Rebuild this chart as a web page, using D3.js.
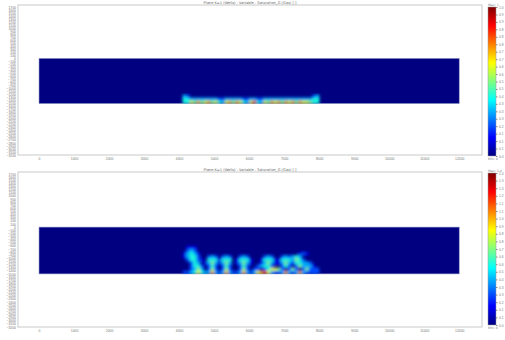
<!DOCTYPE html>
<html>
<head>
<meta charset="utf-8">
<script src="https://cdn.jsdelivr.net/npm/d3@7"></script>
<style>
  body { margin: 0; background: #fff; }
  svg { display: block; font-family: "DejaVu Sans", sans-serif; }
</style>
</head>
<body>
<svg id="chart" width="505" height="340"></svg>
<script>
// Axis ticks (metres)
const xTicks = [0, 1000, 2000, 3000, 4000, 5000, 6000, 7000, 8000, 9000, 10000, 11000, 12000];
const yTicks = [1700, 1600, 1500, 1400, 1300, 1200, 1100, 1000, 900, 800, 700, 600, 500, 400, 300, 200, 100, 0,
  -100, -200, -300, -400, -500, -600, -700, -800, -900, -1000, -1100, -1200, -1300, -1400, -1500, -1600,
  -1700, -1800, -1900, -2000, -2100, -2200, -2300, -2400, -2500, -2600, -2700, -2800, -2900, -3000, -3100, -3200];

// Model extent
const modelX = [0, 12000];
const modelY = [-1500, 0];

// Grid cells: columns start at 3800 m, 100 m wide; each string is one 100 m layer, digit = saturation / 10
const gridX0 = 3800;
const cellSize = 100;

const topDepths = [-1200, -1300, -1400];
const topGrid = [
  "00032000000000000000000000000000000000002300",
  "00044333333332233333223322333333333333334400",
  "00044657567564367576436843657675767576654400"
];

const bottomDepths = [-600, -700, -800, -900, -1000, -1100, -1200, -1300, -1400];
const bottomGrid = [
  "00001110000000000000000000000000000000000000",
  "00002320000000000000000000000000000000000000",
  "00013431000000000000000000000000000012100000",
  "00013442002320232002320000232002323430000000",
  "00002442104441444014441001444114443542000000",
  "00000243013531353013531001353113532443320000",
  "00000244202420242002420023442002420253331000",
  "00000235302520252002520220246652025202522200",
  "00022346433732373223732367963223732373222200"
];

// Colour bars
const topBarMax = 1.0;
const topBarTicks = [0, 0.05, 0.1, 0.15, 0.2, 0.25, 0.3, 0.35, 0.4, 0.45, 0.5, 0.55, 0.6, 0.65, 0.7, 0.75, 0.8, 0.85, 0.9, 0.95, 1];
const bottomBarMax = 1.4;
const bottomBarTicks = [0, 0.07, 0.14, 0.21, 0.28, 0.35, 0.42, 0.49, 0.56, 0.63, 0.7, 0.77, 0.84, 0.91, 0.98, 1.05, 1.12, 1.19, 1.26, 1.33, 1.4];

const titles = [
  "Plane K=1 (Wells)  -  Variable : Saturation_G (Gas) [-]",
  "Plane K=1 (Wells)  -  Variable : Saturation_G (Gas) [-]"
];

// Jet colour map
const jetStops = [0, 0.125, 0.375, 0.625, 0.875, 1];
const jetColours = ["#000080", "#0000ff", "#00ffff", "#ffff00", "#ff0000", "#800000"];
const jet = d3.scaleLinear().domain(jetStops).range(jetColours).clamp(true);

const svg = d3.select("#chart");
const defs = svg.append("defs");

defs.append("filter").attr("id", "soft")
  .attr("x", "-10%").attr("y", "-10%").attr("width", "120%").attr("height", "120%")
  .append("feGaussianBlur").attr("stdDeviation", 1.35);

const grad = defs.append("linearGradient").attr("id", "jetGrad")
  .attr("x1", 0).attr("y1", 1).attr("x2", 0).attr("y2", 0);
grad.selectAll("stop").data(jetStops).join("stop")
  .attr("offset", d => d)
  .attr("stop-color", d => jet(d));

const panels = [
  {top: 5, bottom: 155, barTop: 7, barBottom: 156, depths: topDepths, grid: topGrid,
   barMax: topBarMax, barTicks: topBarTicks, title: titles[0]},
  {top: 172, bottom: 327, barTop: 173, barBottom: 325, depths: bottomDepths, grid: bottomGrid,
   barMax: bottomBarMax, barTicks: bottomBarTicks, title: titles[1]}
];

const frameLeft = 18, frameRight = 482;
const barLeft = 488, barWidth = 8;

panels.forEach((p, i) => {
  const x = d3.scaleLinear().domain([-600, 12650]).range([frameLeft, frameRight]);
  const y = d3.scaleLinear().domain([-3200, 1700]).range([p.bottom, p.top + 2]);
  const g = svg.append("g");

  // frame
  g.append("rect")
    .attr("x", frameLeft).attr("y", p.top)
    .attr("width", frameRight - frameLeft).attr("height", p.bottom - p.top)
    .attr("fill", "none").attr("stroke", "#c9c9c9").attr("stroke-width", 1);

  // title
  g.append("text")
    .attr("x", 250).attr("y", p.top - 1.3)
    .attr("text-anchor", "middle")
    .attr("font-size", 3.6).attr("fill", "#666")
    .text(p.title);

  // axes
  const xAxis = g.append("g")
    .attr("transform", `translate(0,${p.bottom})`)
    .call(d3.axisBottom(x).tickValues(xTicks).tickSize(0).tickPadding(2.5).tickFormat(d3.format("d")));
  const yAxis = g.append("g")
    .attr("transform", `translate(${frameLeft},0)`)
    .call(d3.axisLeft(y).tickValues(yTicks).tickSize(0).tickPadding(2).tickFormat(d3.format("d")));
  [xAxis, yAxis].forEach(a => {
    a.select(".domain").remove();
    a.selectAll("text").attr("font-size", 3.4).attr("fill", "#777");
  });

  // model domain
  const clipId = "clip" + i;
  defs.append("clipPath").attr("id", clipId).append("rect")
    .attr("x", x(modelX[0])).attr("y", y(modelY[1]))
    .attr("width", x(modelX[1]) - x(modelX[0]))
    .attr("height", y(modelY[0]) - y(modelY[1]));

  g.append("rect")
    .attr("x", x(modelX[0])).attr("y", y(modelY[1]))
    .attr("width", x(modelX[1]) - x(modelX[0]))
    .attr("height", y(modelY[0]) - y(modelY[1]))
    .attr("fill", jet(0))
    .attr("stroke", "#9aa0c8").attr("stroke-width", 0.6);

  const cells = [];
  p.grid.forEach((row, r) => {
    row.split("").forEach((ch, c) => {
      const v = +ch / 10;
      if (v > 0) cells.push({x0: gridX0 + c * cellSize, y0: p.depths[r], v});
    });
  });

  g.append("g").attr("clip-path", `url(#${clipId})`)
    .append("g").attr("filter", "url(#soft)")
    .selectAll("rect").data(cells).join("rect")
      .attr("x", d => x(d.x0))
      .attr("y", d => y(d.y0))
      .attr("width", d => x(d.x0 + cellSize) - x(d.x0) + 0.2)
      .attr("height", d => y(d.y0 - cellSize) - y(d.y0) + 0.2)
      .attr("fill", d => jet(d.v));

  // colour bar
  const c = d3.scaleLinear().domain([0, p.barMax]).range([p.barBottom, p.barTop]);
  g.append("rect")
    .attr("x", barLeft).attr("y", p.barTop)
    .attr("width", barWidth).attr("height", p.barBottom - p.barTop)
    .attr("fill", "url(#jetGrad)")
    .attr("stroke", "#999").attr("stroke-width", 0.5);
  const cAxis = g.append("g")
    .attr("transform", `translate(${barLeft + barWidth},0)`)
    .call(d3.axisRight(c).tickValues(p.barTicks).tickSize(1.5).tickPadding(1.5));
  cAxis.select(".domain").remove();
  cAxis.selectAll("line").attr("stroke", "#888");
  cAxis.selectAll("text").attr("font-size", 3.2).attr("fill", "#777");

  g.append("text")
    .attr("x", barLeft).attr("y", p.barTop - 1.5)
    .attr("font-size", 3.2).attr("fill", "#777")
    .text("Max: " + p.barMax);
  g.append("text")
    .attr("x", barLeft).attr("y", p.barBottom + 4)
    .attr("font-size", 3.2).attr("fill", "#777")
    .text("Min: 0");
});
</script>
</body>
</html>
